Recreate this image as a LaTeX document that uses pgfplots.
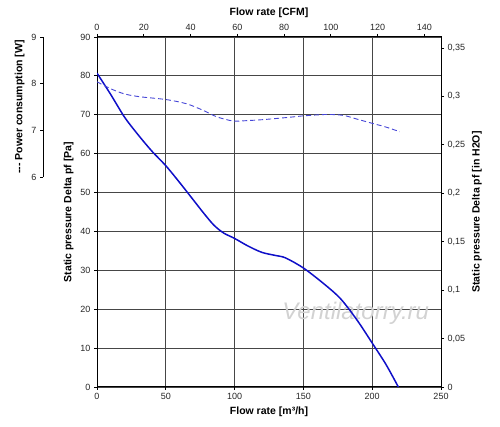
\documentclass[border=0pt]{standalone}
\usepackage{fontspec}
\setmainfont{Liberation Sans}
\usepackage{pgfplots}
\pgfplotsset{compat=1.18}
\definecolor{solidblue}{RGB}{15,15,200}
\definecolor{dashblue}{RGB}{70,70,215}
\definecolor{gridgray}{RGB}{70,70,70}
\begin{document}
\begin{tikzpicture}
\path[use as bounding box] (0,0) rectangle (500pt,427pt);
\pgfplotsset{
  common/.style={
    tick align=outside, major tick length=3pt,
    tick style={black, line width=0.8pt},
    ticklabel style={font=\fontsize{9}{10}\selectfont, text=black!85},
    label style={font=\bfseries\fontsize{10.5}{12}\selectfont},
    /pgf/number format/assume math mode=true,
    axis line style={line width=1pt}},
  base/.style={common, scale only axis, width=344pt, height=350pt,
    at={(97pt,40pt)}, anchor=south west},
}
% main axis (m3/h, Pa)
\begin{axis}[base, xmin=0, xmax=250, ymin=0, ymax=90,
  xtick={0,50,...,250}, ytick={0,10,...,90},
  xtick pos=bottom, ytick pos=left,
  grid=major, major grid style={gridgray, line width=0.9pt},
  xlabel={Flow rate [m³/h]}, ylabel={Static pressure Delta pf [Pa]}]
\node[text=gray!35, font=\itshape\fontsize{24}{24}\selectfont] at (axis cs:188,19) {Ventilatorry.ru};
\addplot[solidblue, line width=1.5pt, smooth] coordinates {
(0,80.7) (10,75.2) (20,69.4) (30,64.8) (40,60.6) (50,56.9)
(60,52.6) (70,48.1) (78,44.5) (85,41.6) (92,39.6) (100,38.2)
(110,36.2) (120,34.6) (130,33.8) (137,33.2) (150,30.6)
(165,26.5) (177,22.7) (189,17.2) (200,11.3) (210,5.8) (219,0)};
\end{axis}
% top axis (CFM)
\begin{axis}[base, xmin=0, xmax=147.14, ymin=0, ymax=1,
  axis x line*=top, hide y axis, xtick={0,20,...,140},
  xlabel={Flow rate [CFM]}]
\addplot[draw=none] coordinates {(0,0)};
\end{axis}
% right axis (in H2O)
\begin{axis}[base, xmin=0, xmax=1, ymin=0, ymax=0.36132,
  axis y line*=right, hide x axis,
  ytick={0,0.05,0.1,0.15,0.2,0.25,0.3,0.35},
  yticklabel style={/pgf/number format/.cd, use comma, fixed},
  ylabel={Static pressure Delta pf [in H2O]}]
\addplot[draw=none] coordinates {(0,0)};
\end{axis}
% power curve
\begin{axis}[base, xmin=0, xmax=250, ymin=1.5, ymax=9, hide axis]
\addplot[dashblue, dash pattern=on 5pt off 3pt, line width=0.9pt, smooth] coordinates {
(0,8.04) (10,7.89) (20,7.78) (31,7.72) (50,7.66) (65,7.57)
(77,7.43) (87,7.29) (99,7.20) (110,7.21) (121,7.23) (140,7.28)
(150,7.31) (167,7.34) (179,7.32) (189,7.24) (200,7.15)
(210,7.07) (220,6.97)};
\end{axis}
% power scale
\begin{axis}[common, scale only axis, width=1pt, height=140pt,
  at={(43pt,250pt)}, anchor=south west,
  xmin=0, xmax=1, ymin=6, ymax=9, hide x axis, axis y line*=left,
  ytick={6,7,8,9},
  ylabel={{-}{-}{-} Power consumption [W]}]
\addplot[draw=none] coordinates {(0,6)};
\end{axis}
\end{tikzpicture}
\end{document}
